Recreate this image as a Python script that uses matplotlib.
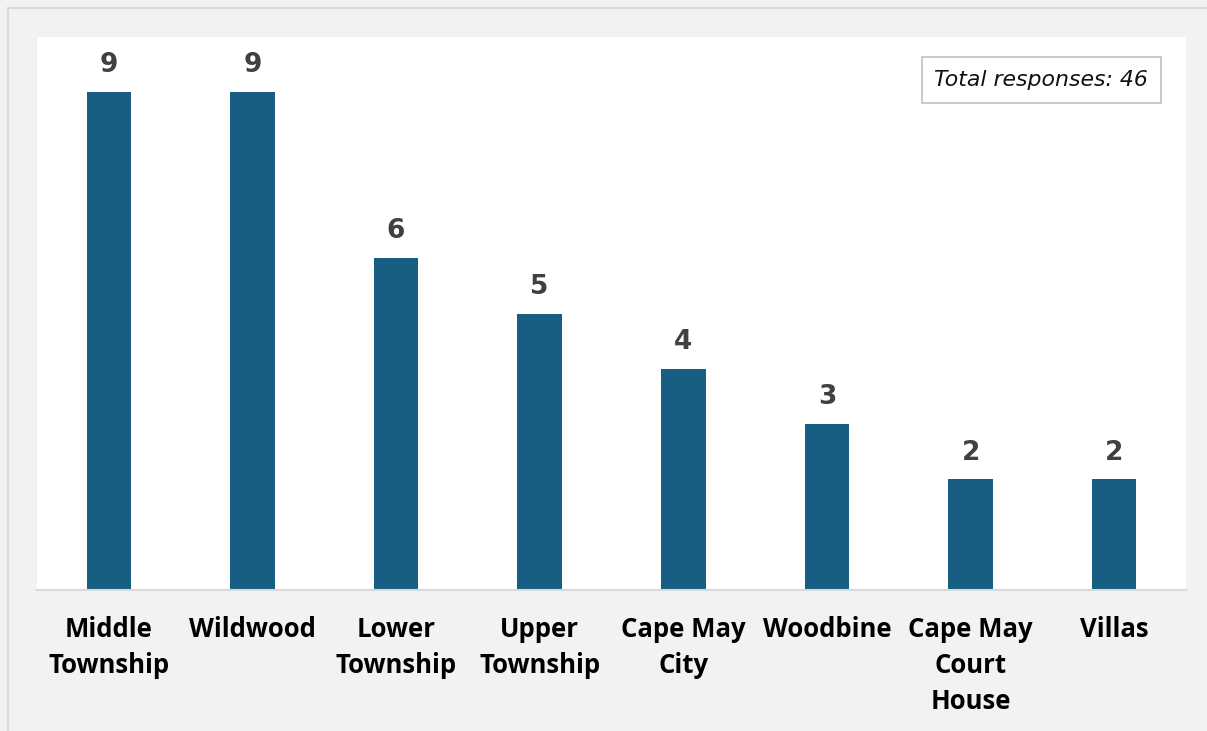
import matplotlib.pyplot as plt
from matplotlib.patches import Rectangle

towns = ["Middle\nTownship", "Wildwood", "Lower\nTownship", "Upper\nTownship",
         "Cape May\nCity", "Woodbine", "Cape May\nCourt\nHouse", "Villas"]
counts = [9, 9, 6, 5, 4, 3, 2, 2]
total = 46

W, H = 1207, 731
fig = plt.figure(figsize=(W / 100, H / 100), dpi=100)
fig.patch.set_facecolor("#f2f2f2")

# thin outer frame
fig.add_artist(Rectangle((8 / W, -0.1), 1.2, (H - 8) / H + 0.1, transform=fig.transFigure,
                         fill=False, edgecolor="#d9d9d9", linewidth=1.5))

ax = fig.add_axes([37 / W, (H - 590) / H, (1186 - 37) / W, (590 - 37) / H])
ax.set_facecolor("white")

x = range(len(towns))
bars = ax.bar(x, counts, width=0.31, color="#175e82")
ax.set_xlim(-0.5, len(towns) - 0.5)
ax.set_ylim(0, 10)

for b, v in zip(bars, counts):
    ax.text(b.get_x() + b.get_width() / 2, v + 0.25, str(v), ha="center", va="bottom",
            fontsize=19, fontweight="bold", color="#404040", family="DejaVu Sans")

ax.set_xticks(list(x))
ax.set_xticklabels(towns, fontsize=18.5, fontweight="bold", family="Open Sans",
                   linespacing=1.43, va="top")
ax.tick_params(axis="x", length=0, pad=19)
ax.set_yticks([])

for s in ["top", "left", "right"]:
    ax.spines[s].set_visible(False)
ax.spines["bottom"].set_color("#d9d9d9")
ax.spines["bottom"].set_linewidth(1.5)

ax.text(0.874, 0.922, f"Total responses: {total}", transform=ax.transAxes,
        ha="center", va="center", fontsize=15.8, style="italic", family="DejaVu Sans",
        color="#111111",
        bbox=dict(boxstyle="square,pad=0.58", facecolor="white", edgecolor="#bfbfbf",
                  linewidth=1.2))

fig.savefig("out.png", dpi=100, facecolor=fig.get_facecolor())
